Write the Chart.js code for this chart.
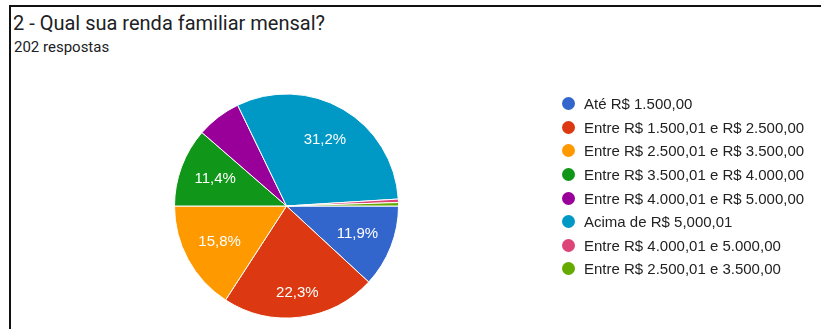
<!DOCTYPE html>
<html>
<head>
<meta charset="utf-8">
<script src="https://cdn.jsdelivr.net/npm/chart.js@4"></script>
<style>
  html, body { margin: 0; padding: 0; background: #fff; }
  body { width: 821px; height: 329px; position: relative; overflow: hidden; }
  #frame { position: absolute; left: 9px; top: 5px; width: 830px; height: 340px;
           border-top: 2px solid #111; border-left: 2px solid #111; }
  #title { position: absolute; left: 13px; top: 11px; font: 20px Roboto, sans-serif; color: #202124; white-space: nowrap; }
  #sub { position: absolute; left: 14px; top: 38px; font: 15px Roboto, sans-serif; color: #202124; }
  #chart { position: absolute; left: 0; top: 0; }
  #legend { position: absolute; left: 562px; top: 92px; font: 15px "Liberation Sans", Arial, sans-serif; color: #222; }
  .item { height: 23.6px; display: flex; align-items: center; white-space: nowrap; }
  .dot { width: 13px; height: 13px; border-radius: 50%; margin-right: 9px; }
</style>
</head>
<body>
<div id="frame"></div>
<div id="title">2 - Qual sua renda familiar mensal?</div>
<div id="sub">202 respostas</div>
<canvas id="chart" width="821" height="329"></canvas>
<div id="legend"></div>
<script>
const categories = [
  'Até R$ 1.500,00',
  'Entre R$ 1.500,01 e R$ 2.500,00',
  'Entre R$ 2.500,01 e R$ 3.500,00',
  'Entre R$ 3.500,01 e R$ 4.000,00',
  'Entre R$ 4.000,01 e R$ 5.000,00',
  'Acima de R$ 5,000,01',
  'Entre R$ 4.000,01 e 5.000,00',
  'Entre R$ 2.500,01 e 3.500,00'
];
const respostas = [24, 45, 32, 23, 13, 63, 1, 1];
const cores = ['#3366cc', '#dc3912', '#ff9900', '#109618', '#990099', '#0099c6', '#dd4477', '#66aa00'];

// legenda
document.getElementById('legend').innerHTML = categories.map((c, i) => `
  <div class="item"><span class="dot" style="background:${cores[i]}"></span>${c}</div>
`).join('');

// rotulos de porcentagem dentro das fatias
const sliceLabels = {
  id: 'sliceLabels',
  afterDatasetsDraw(chart) {
    const ctx = chart.ctx;
    const meta = chart.getDatasetMeta(0);
    const total = respostas.reduce((a, b) => a + b, 0);
    ctx.save();
    ctx.fillStyle = '#fff';
    ctx.font = '15px "Liberation Sans", Arial, sans-serif';
    ctx.textAlign = 'center';
    ctx.textBaseline = 'middle';
    meta.data.forEach((arc, i) => {
      const pct = respostas[i] / total * 100;
      if (pct < 8) return;
      const mid = (arc.startAngle + arc.endAngle) / 2;
      // fatias voltadas pra baixo ficam um pouco mais pra fora
      const d = arc.outerRadius * (Math.sin(mid) > 0.95 ? 0.78 : 0.68);
      const txt = pct.toFixed(1).replace('.', ',') + '%';
      ctx.fillText(txt, arc.x + Math.cos(mid) * d, arc.y + Math.sin(mid) * d);
    });
    ctx.restore();
  }
};

new Chart(document.getElementById('chart'), {
  type: 'pie',
  data: {
    labels: categories,
    datasets: [{
      data: respostas,
      backgroundColor: cores,
      borderColor: '#fff',
      borderWidth: 1
    }]
  },
  options: {
    responsive: false,
    animation: false,
    rotation: 90,
    layout: { padding: { left: 174, top: 93.5, right: 422, bottom: 10.5 } },
    plugins: { legend: { display: false }, tooltip: { enabled: false } }
  },
  plugins: [sliceLabels]
});
</script>
</body>
</html>
